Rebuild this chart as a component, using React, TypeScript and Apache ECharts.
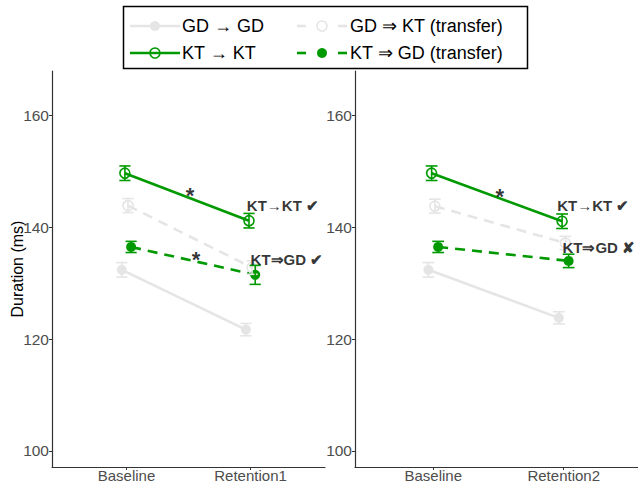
import React, { useEffect, useRef } from "react";
import * as echarts from "echarts";

// Conditions, in legend order
const groupNames = ["GD → GD", "KT → KT", "GD ⇒ KT (transfer)", "KT ⇒ GD (transfer)"];

// Session categories for each panel
const sessionsA = ["Baseline", "Retention1"];
const sessionsB = ["Baseline", "Retention2"];

// Mean duration (ms) per condition, panel A (Baseline, Retention1)
const gdGdA = [132.4, 121.7];
const ktKtA = [149.7, 141.2];
const gdKtA = [143.9, 132.8];
const ktGdA = [136.5, 131.5];
// Standard errors, panel A
const gdGdSeA = [1.3, 1.1];
const ktKtSeA = [1.3, 1.3];
const gdKtSeA = [1.25, 1.2];
const ktGdSeA = [1.0, 1.7];

// Mean duration (ms) per condition, panel B (Baseline, Retention2)
const gdGdB = [132.4, 123.8];
const ktKtB = [149.7, 141.1];
const gdKtB = [143.8, 137.2];
const ktGdB = [136.5, 134.0];
// Standard errors, panel B
const gdGdSeB = [1.3, 1.1];
const ktKtSeB = [1.3, 1.3];
const gdKtSeB = [1.25, 1.2];
const ktGdSeB = [1.0, 1.2];

const yTicks = [100, 120, 140, 160];

// Significance marks: indices of conditions with a significant change
const starsA = [1, 3];
const starsB = [1];

// Text annotations beside the second session
const notesA = [
  { text: "KT→KT ✔", x: 1.97, y: 143.9 },
  { text: "KT⇒GD ✔", x: 2.0, y: 134.2 },
];
const notesB = [
  { text: "KT→KT ✔", x: 1.95, y: 143.9 },
  { text: "KT⇒GD ✘", x: 1.99, y: 136.4 },
];

const GREEN = "#009a00";
const GREY = "#e5e5e5";
const FONT = "'Liberation Sans', Arial, Helvetica, sans-serif";

const groupStyle = [
  { color: GREY, dashed: false, filled: true, dodge: -0.0375 },
  { color: GREEN, dashed: false, filled: false, dodge: -0.0125 },
  { color: GREY, dashed: true, filled: false, dodge: 0.0125 },
  { color: GREEN, dashed: true, filled: true, dodge: 0.0375 },
];
// drawing order: grey first, green on top
const drawOrder = [0, 2, 1, 3];

function panelSeries(
  axisIdx: number,
  means: number[][],
  ses: number[][],
  stars: number[],
  notes: { text: string; x: number; y: number }[]
) {
  const out: any[] = [];
  for (const g of drawOrder) {
    const st = groupStyle[g];
    const pts = means[g].map((v, i) => [i + 1 + st.dodge, v]);
    out.push({
      type: "line",
      name: groupNames[g],
      xAxisIndex: axisIdx,
      yAxisIndex: axisIdx,
      data: pts,
      symbol: "circle",
      symbolSize: 10,
      lineStyle: { color: st.color, width: 2.6, type: st.dashed ? [10, 7] : "solid" },
      itemStyle: st.filled
        ? { color: st.color, borderWidth: 0 }
        : { color: "rgba(0,0,0,0)", borderColor: st.color, borderWidth: 1.6 },
      z: 2,
      silent: true,
    });
    out.push({
      type: "custom",
      xAxisIndex: axisIdx,
      yAxisIndex: axisIdx,
      clip: false,
      z: 3,
      silent: true,
      data: means[g].map((v, i) => [i + 1 + st.dodge, v - ses[g][i], v + ses[g][i]]),
      encode: { x: 0, y: [1, 2] },
      renderItem: (_p: any, api: any) => {
        const x = api.value(0);
        const lo = api.value(1);
        const hi = api.value(2);
        const cap = 0.045;
        const a = api.coord([x, hi]);
        const b = api.coord([x, lo]);
        const tl = api.coord([x - cap, hi]);
        const tr = api.coord([x + cap, hi]);
        const bl = api.coord([x - cap, lo]);
        const br = api.coord([x + cap, lo]);
        const s = { stroke: st.color, lineWidth: 1.6 };
        return {
          type: "group",
          children: [
            { type: "line", shape: { x1: a[0], y1: a[1], x2: b[0], y2: b[1] }, style: s },
            { type: "line", shape: { x1: tl[0], y1: tl[1], x2: tr[0], y2: tr[1] }, style: s },
            { type: "line", shape: { x1: bl[0], y1: bl[1], x2: br[0], y2: br[1] }, style: s },
          ],
        };
      },
    });
  }
  // asterisks at the middle of significant segments
  out.push({
    type: "scatter",
    xAxisIndex: axisIdx,
    yAxisIndex: axisIdx,
    symbolSize: 0,
    silent: true,
    z: 5,
    data: stars.map((g) => [1.5 + groupStyle[g].dodge, (means[g][0] + means[g][1]) / 2]),
    label: {
      show: true,
      position: "inside",
      offset: [3, -1],
      formatter: "*",
      fontSize: 22,
      fontWeight: "bold",
      color: "#000",
      fontFamily: FONT,
    },
  });
  out.push({
    type: "scatter",
    xAxisIndex: axisIdx,
    yAxisIndex: axisIdx,
    symbolSize: 0,
    silent: true,
    z: 5,
    data: notes.map((n) => ({ value: [n.x, n.y], name: n.text })),
    label: {
      show: true,
      position: "right",
      distance: 0,
      formatter: (p: any) => p.name,
      fontSize: 15,
      fontWeight: "bold",
      color: "#000",
      fontFamily: FONT,
    },
  });
  return out;
}

function xAxis(gridIndex: number, cats: string[]) {
  return {
    type: "value",
    gridIndex,
    min: 0.4,
    max: 2.6,
    axisLine: { show: true, lineStyle: { color: "#333", width: 1.2 } },
    axisTick: { show: true, length: 3, customValues: [1, 2], lineStyle: { color: "#333" } },
    axisLabel: {
      customValues: [1, 2],
      formatter: (v: number) => cats[Math.round(v) - 1] ?? "",
      fontSize: 15,
      lineHeight: 15,
      color: "#4d4d4d",
      margin: 1,
      fontFamily: FONT,
    },
    splitLine: { show: false },
  };
}

function yAxis(gridIndex: number, title: string) {
  return {
    type: "value",
    gridIndex,
    min: 97.1,
    max: 168,
    name: title,
    nameLocation: "middle",
    nameGap: 27,
    nameMoveOverlap: false,
    nameTextStyle: { fontSize: 16, color: "#000", fontFamily: FONT },
    axisLine: { show: true, lineStyle: { color: "#333", width: 1.2 } },
    axisTick: { show: true, length: 3, customValues: yTicks, lineStyle: { color: "#333" } },
    axisLabel: {
      customValues: yTicks,
      fontSize: 15.5,
      color: "#4d4d4d",
      margin: 3,
      fontFamily: FONT,
    },
    splitLine: { show: false },
  };
}

function legendGraphics() {
  const rows = [26, 53];
  const cols = [
    { x0: 130, x1: 180, tx: 182 },
    { x0: 297, x1: 347, tx: 350 },
  ];
  // first column holds the within-device groups, second the transfer groups
  const slots = [
    { g: 0, c: 0, r: 0 },
    { g: 1, c: 0, r: 1 },
    { g: 2, c: 1, r: 0 },
    { g: 3, c: 1, r: 1 },
  ];
  const els: any[] = [
    {
      type: "rect",
      shape: { x: 123.5, y: 6.5, width: 404, height: 62 },
      style: { fill: "#fff", stroke: "#000", lineWidth: 1.5 },
      z: 10,
    },
  ];
  for (const s of slots) {
    const st = groupStyle[s.g];
    const col = cols[s.c];
    const y = rows[s.r];
    const cx = (col.x0 + col.x1) / 2;
    if (st.dashed) {
      els.push({
        type: "line",
        shape: { x1: col.x0, y1: y, x2: col.x0 + 9, y2: y },
        style: { stroke: st.color, lineWidth: 2.6 },
        z: 11,
      });
      els.push({
        type: "line",
        shape: { x1: col.x1 - 9, y1: y, x2: col.x1, y2: y },
        style: { stroke: st.color, lineWidth: 2.6 },
        z: 11,
      });
    } else {
      els.push({
        type: "line",
        shape: { x1: col.x0, y1: y, x2: col.x1, y2: y },
        style: { stroke: st.color, lineWidth: 2.6 },
        z: 11,
      });
    }
    els.push({
      type: "circle",
      shape: { cx, cy: y, r: 5 },
      style: st.filled
        ? { fill: st.color }
        : { fill: "rgba(0,0,0,0)", stroke: st.color, lineWidth: 1.6 },
      z: 12,
    });
    els.push({
      type: "text",
      x: col.tx,
      y,
      style: {
        text: groupNames[s.g],
        fontSize: 18,
        fill: "#000",
        fontFamily: FONT,
        verticalAlign: "middle",
        align: "left",
      },
      z: 12,
    });
  }
  return els;
}

export default function App() {
  const ref = useRef<HTMLDivElement>(null);

  useEffect(() => {
    if (!ref.current) return;
    const chart = echarts.init(ref.current, undefined, { renderer: "svg" });
    const meansA = [gdGdA, ktKtA, gdKtA, ktGdA];
    const sesA = [gdGdSeA, ktKtSeA, gdKtSeA, ktGdSeA];
    const meansB = [gdGdB, ktKtB, gdKtB, ktGdB];
    const sesB = [gdGdSeB, ktKtSeB, gdKtSeB, ktGdSeB];
    chart.setOption({
      animation: false,
      backgroundColor: "#fff",
      textStyle: { fontFamily: FONT },
      grid: [
        { left: 52, top: 71, width: 273, height: 396, outerBoundsMode: "none" },
        { left: 355, top: 71, width: 287, height: 396, outerBoundsMode: "none" },
      ],
      xAxis: [xAxis(0, sessionsA), xAxis(1, sessionsB)],
      yAxis: [yAxis(0, "Duration (ms)"), yAxis(1, "")],
      series: [
        ...panelSeries(0, meansA, sesA, starsA, notesA),
        ...panelSeries(1, meansB, sesB, starsB, notesB),
      ],
      graphic: legendGraphics(),
    });
    return () => chart.dispose();
  }, []);

  return (
    <div
      ref={ref}
      style={{ position: "fixed", left: 0, top: 0, width: 638, height: 483 }}
    />
  );
}
